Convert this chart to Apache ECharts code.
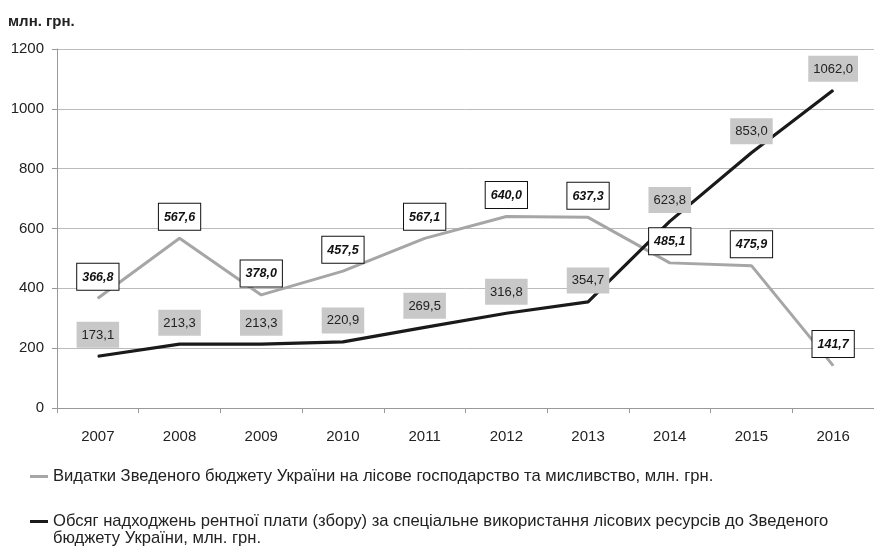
<!DOCTYPE html>
<html><head><meta charset="utf-8">
<script src="https://cdn.jsdelivr.net/npm/echarts@6/dist/echarts.min.js"></script>
<style>html,body{margin:0;padding:0;background:#fff}#c{width:874px;height:551px}</style>
</head><body><div id="c"></div>
<script>
const years = ['2007','2008','2009','2010','2011','2012','2013','2014','2015','2016'];
const expenditures = [366.8, 567.6, 378.0, 457.5, 567.1, 640.0, 637.3, 485.1, 475.9, 141.7];
const rentPayments = [173.1, 213.3, 213.3, 220.9, 269.5, 316.8, 354.7, 623.8, 853.0, 1062.0];
const seriesNames = [
  'Видатки Зведеного бюджету України на лісове господарство та мисливство, млн. грн.',
  'Обсяг надходжень рентної плати (збору) за спеціальне використання лісових ресурсів до Зведеного бюджету України, млн. грн.'
];
const legendSecondLine = 'бюджету України, млн. грн.';
const yTicks = [0, 200, 400, 600, 800, 1000, 1200];
const unitLabel = 'млн. грн.';

const fmt = p => p.value.toFixed(1).replace('.', ',');
const legendText = {fontFamily: 'Liberation Sans, Arial, sans-serif', fontSize: 16.6, color: '#222'};
const chart = echarts.init(document.getElementById('c'));
chart.setOption({
  animation: false,
  textStyle: {fontFamily: 'Liberation Sans, Arial, sans-serif'},
  title: {text: unitLabel, left: 8, top: 14, padding: 0, textStyle: {fontSize: 15, fontWeight: 'bold', color: '#222'}},
  grid: {left: 57, right: -5, top: 49, bottom: 143, containLabel: false},
  legend: [
    {
      data: [seriesNames[0]], left: 30, top: 468, padding: 0, itemWidth: 18, itemHeight: 3, icon: 'rect',
      textStyle: legendText
    },
    {
      data: [seriesNames[1]], left: 30, top: 513, padding: 0, itemWidth: 18, itemHeight: 3, icon: 'rect',
      formatter: name => name.replace(' ' + legendSecondLine, ''),
      textStyle: legendText
    }
  ],
  graphic: [{
    type: 'text', left: 53, top: 530,
    style: {text: legendSecondLine, font: '16.6px "Liberation Sans", Arial, sans-serif', fill: '#222'}
  }],
  xAxis: {
    type: 'category', data: years, boundaryGap: true,
    axisLine: {lineStyle: {color: '#999'}},
    axisTick: {show: true, length: 5, lineStyle: {color: '#999'}},
    axisLabel: {fontSize: 15, color: '#222', margin: 21}
  },
  yAxis: {
    type: 'value', min: yTicks[0], max: yTicks[yTicks.length - 1], interval: 200,
    axisLine: {show: true, lineStyle: {color: '#999'}},
    axisTick: {show: true, length: 5, lineStyle: {color: '#999'}},
    splitLine: {lineStyle: {color: '#bbb'}},
    axisLabel: {fontSize: 15, color: '#222', margin: 13, formatter: v => String(v)}
  },
  series: [
    {
      name: seriesNames[0], type: 'line', data: expenditures, symbol: 'circle', symbolSize: 1, showSymbol: true,
      lineStyle: {color: '#a6a6a6', width: 3}, itemStyle: {color: '#a6a6a6'},
      label: {
        show: true, position: 'top', distance: 8, formatter: fmt,
        fontSize: 12.5, fontWeight: 'bold', fontStyle: 'italic', color: '#111',
        backgroundColor: '#fff', borderColor: '#111', borderWidth: 1,
        padding: [7, 5, 6, 5]
      }
    },
    {
      name: seriesNames[1], type: 'line', data: rentPayments, symbol: 'circle', symbolSize: 1, showSymbol: true,
      lineStyle: {color: '#1a1a1a', width: 3.2}, itemStyle: {color: '#1a1a1a'},
      label: {
        show: true, position: 'top', distance: 8, formatter: fmt,
        fontSize: 13, color: '#222',
        backgroundColor: '#c8c8c8', padding: [7, 5, 6, 5]
      }
    }
  ]
});
</script></body></html>
